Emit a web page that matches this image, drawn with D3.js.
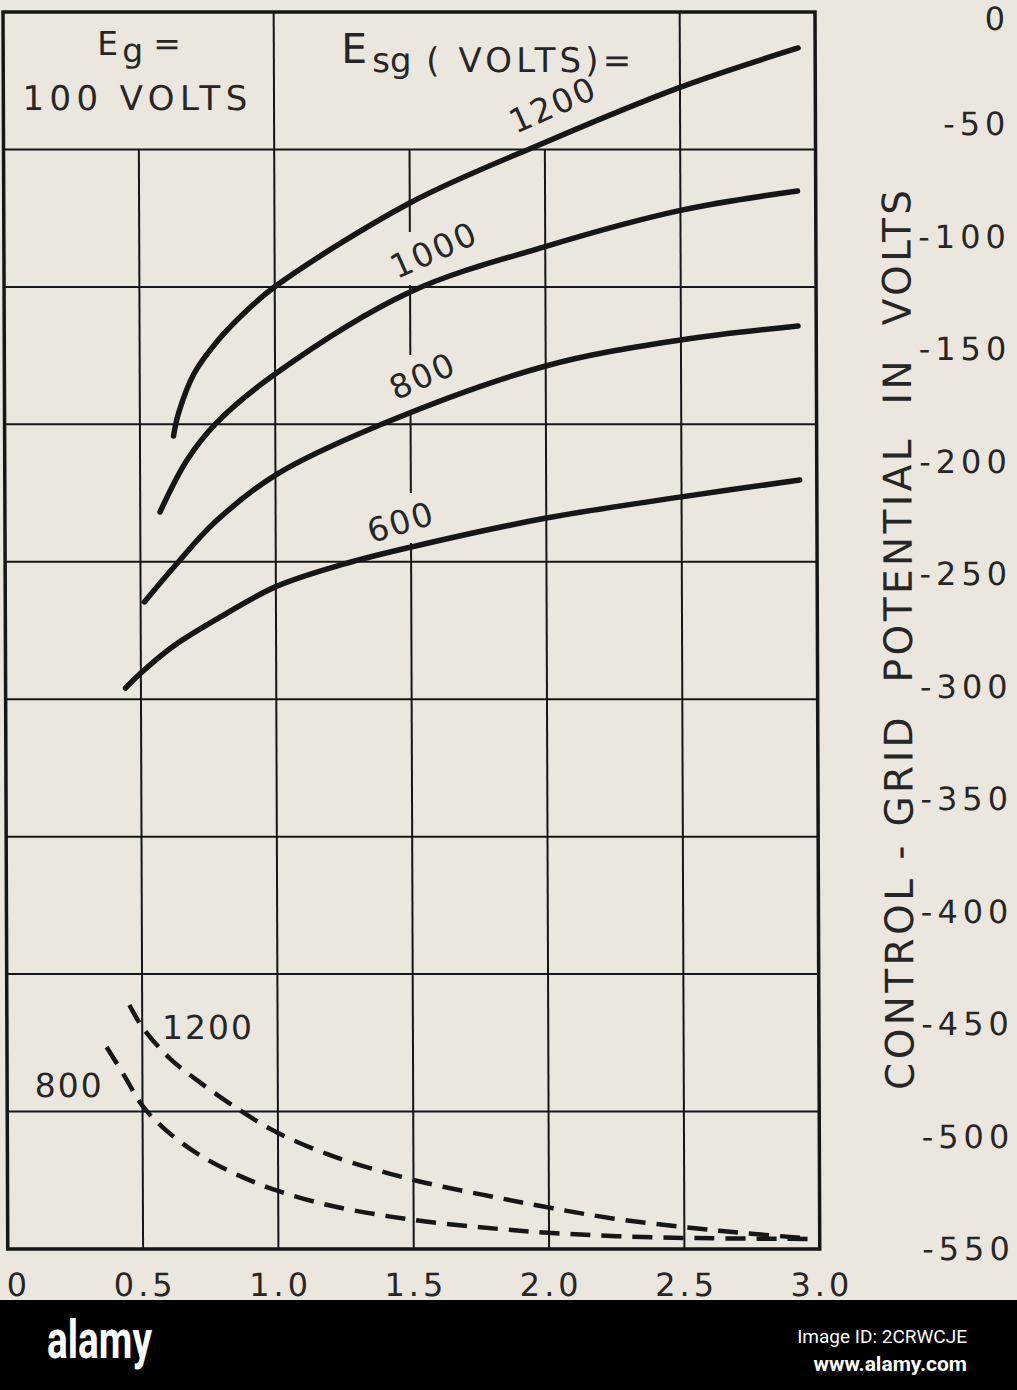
<!DOCTYPE html>
<html><head><meta charset="utf-8">
<script src="https://cdn.jsdelivr.net/npm/d3@7"></script>
<style>html,body{margin:0;padding:0;background:#ebe7df;}svg{display:block}</style>
</head><body><svg id="c" width="1017" height="1390"></svg>
<script>
// ---------- data ----------
const xTicks = [0, 0.5, 1, 1.5, 2, 2.5, 3];
const xTickLabels = ["0", "0.5", "1.0", "1.5", "2.0", "2.5", "3.0"];
const yTicks = [0, -50, -100, -150, -200, -250, -300, -350, -400, -450, -500, -550];
const yTickLabels = ["0", "-50", "-100", "-150", "-200", "-250", "-300", "-350", "-400", "-450", "-500", "-550"];

// solid curves: Eg = 100 V, Esg = 1200 / 1000 / 800 / 600 V  [plate current A, control-grid V]
const esg1200 = [[0.624,-188.5],[0.643,-178.3],[0.702,-160.5],[0.791,-145.8],[0.887,-133.8],[1.0,-122.2],[1.5,-84.9],[2.0,-58.0],[2.5,-33.5],[2.937,-16.0]];
const esg1000 = [[0.573,-222.3],[0.672,-199.5],[0.783,-182.7],[1.0,-161.0],[1.5,-124.5],[2.0,-104.3],[2.5,-88.2],[2.933,-79.6]];
const esg800 = [[0.514,-262.3],[0.643,-244.1],[0.776,-226.8],[1.0,-205.9],[1.393,-183.3],[2.0,-157.4],[2.5,-145.8],[2.933,-139.6]];
const esg600 = [[0.443,-300.6],[0.5,-293.9],[0.62,-282.0],[0.776,-270.3],[1.0,-255.5],[1.25,-245.5],[1.5,-237.9],[2.0,-225.0],[2.5,-215.6],[2.937,-208.1]];

// dashed curves: Esg = 1200 / 800 V
const dash1200 = [[0.453,-441.5],[0.5,-451.3],[0.600,-465.1],[0.710,-475.7],[0.858,-488.2],[1.0,-498.4],[1.2,-508.6],[1.5,-519.3],[1.815,-527.3],[2.01,-531.8],[2.23,-536.3],[2.503,-540.3],[2.724,-543.0],[2.955,-545.2]];
const dash800 = [[0.368,-460.2],[0.434,-473.1],[0.5,-486.4],[0.589,-497.5],[0.710,-508.2],[0.858,-517.5],[1.0,-524.2],[1.2,-530.9],[1.5,-537.1],[1.815,-541.1],[2.01,-542.9],[2.23,-544.2],[2.503,-545.1],[2.955,-545.5]];

const solidNames = ["1200", "1000", "800", "600"];
const dashedNames = ["1200", "800"];

// ---------- layout ----------
const svg = d3.select("#c");
const W = 1017, H = 1390;
const bg = "#ebe7df", ink = "#161616", txt = "#262626";
const FONT = "'DejaVu Sans', 'Noto Sans', sans-serif";
svg.append("rect").attr("width", W).attr("height", H).attr("fill", bg);

const x = d3.scaleLinear().domain([0, 3]).range([3, 815]);
const y = d3.scaleLinear().domain([-550, 0]).range([1249, 12]);

const g = svg.append("g").attr("transform", "translate(0,12) skewX(0.22) translate(0,-12)");

// grid: 9 equal rows, 6 columns
const rowVals = d3.range(1, 9).map(i => -550 * i / 9);
const headerBottom = rowVals[0];
const grid = g.append("g").attr("stroke", ink).attr("stroke-width", 2).attr("fill", "none");
grid.selectAll("line.h").data(rowVals).join("line")
  .attr("x1", x(0)).attr("x2", x(3)).attr("y1", d => y(d)).attr("y2", d => y(d));

const fullCols = [1, 2.5];
const colBreaks = { 1.5: [[-97.8, -121.4], [-152.5, -177.8], [-213.9, -236.1]] };
[0.5, 1, 1.5, 2, 2.5].forEach(v => {
  let top = fullCols.includes(v) ? 0 : headerBottom;
  const segs = [];
  (colBreaks[v] || []).forEach(([a, b]) => { segs.push([top, a]); top = b; });
  segs.push([top, -550]);
  segs.forEach(([a, b]) => grid.append("line")
    .attr("x1", x(v)).attr("x2", x(v)).attr("y1", y(a)).attr("y2", y(b)));
});
// frame
g.append("rect").attr("x", x(0)).attr("y", y(0))
  .attr("width", x(3) - x(0)).attr("height", y(-550) - y(0))
  .attr("fill", "none").attr("stroke", ink).attr("stroke-width", 3.5);

// curves
const line = d3.line().x(d => x(d[0])).y(d => y(d[1])).curve(d3.curveCatmullRom.alpha(0.5));
g.append("g").selectAll("path").data([esg1200, esg1000, esg800, esg600]).join("path")
  .attr("d", line).attr("fill", "none").attr("stroke", ink)
  .attr("stroke-width", 5.5).attr("stroke-linecap", "round");
g.append("g").selectAll("path").data([dash1200, dash800]).join("path")
  .attr("d", line).attr("fill", "none").attr("stroke", ink)
  .attr("stroke-width", 4.5).attr("stroke-dasharray", "20,11");

// curve labels (anchor in data units)
const solidLabelPos = [[2.031, -41.3, -24], [1.589, -105.8, -24], [1.546, -161.8, -24], [1.463, -226.8, -17]];
const dashedLabelPos = [[0.743, -451.3, 0], [0.229, -477.1, 0]];
function curveLabel(t, p) {
  g.append("text").attr("transform", `translate(${x(p[0])},${y(p[1])}) rotate(${p[2]})`)
    .attr("text-anchor", "middle").attr("dominant-baseline", "central")
    .attr("font-family", FONT).attr("font-size", 33).attr("letter-spacing", 2)
    .attr("fill", txt).text(t);
}
solidNames.forEach((n, i) => curveLabel(n, solidLabelPos[i]));
dashedNames.forEach((n, i) => curveLabel(n, dashedLabelPos[i]));

// header texts
function ht(t, px, py, fs, extra) {
  const e = g.append("text").attr("x", px).attr("y", py).attr("font-family", FONT)
    .attr("font-size", fs).attr("fill", txt).text(t);
  if (extra) extra(e);
  return e;
}
ht("E", 97, 55, 33);
ht("g", 122, 62, 33);
ht("=", 153, 55, 33);
ht("100 VOLTS", 22, 110, 34, e => e.attr("textLength", 225).attr("lengthAdjust", "spacing"));
ht("E", 341, 63, 41);
ht("sg", 372, 72, 34);
ht("( VOLTS)=", 426, 72, 34, e => e.attr("textLength", 205).attr("lengthAdjust", "spacing").style("white-space", "pre"));

// tick labels
g.append("g").selectAll("text").data(xTicks).join("text")
  .attr("x", d => Math.max(x(d) + 2, 14)).attr("y", 1296)
  .attr("text-anchor", "middle").attr("font-family", FONT).attr("font-size", 32)
  .attr("letter-spacing", 4).attr("fill", txt).text((d, i) => xTickLabels[i]);
g.append("g").selectAll("text").data(yTicks).join("text")
  .attr("x", 1010).attr("y", d => Math.max(y(d), 19)).attr("dominant-baseline", "central")
  .attr("text-anchor", "end").attr("font-family", FONT).attr("font-size", 32)
  .attr("letter-spacing", 5).attr("fill", txt).text((d, i) => yTickLabels[i]);

// axis title
g.append("text").attr("transform", `translate(896,640) rotate(-90)`)
  .attr("text-anchor", "middle").attr("dominant-baseline", "central")
  .attr("font-family", FONT).attr("font-size", 39).attr("fill", txt)
  .attr("textLength", 900).attr("lengthAdjust", "spacing")
  .style("white-space", "pre").text("CONTROL - GRID  POTENTIAL  IN  VOLTS");

// bottom banner
svg.append("rect").attr("x", 0).attr("y", 1300).attr("width", W).attr("height", 90).attr("fill", "#000");
svg.append("text").attr("x", 47).attr("y", 1358).attr("fill", "#fff")
  .attr("font-family", "'Liberation Sans Narrow','Roboto',sans-serif").attr("font-weight", "bold")
  .attr("font-size", 54).attr("textLength", 105).attr("lengthAdjust", "spacingAndGlyphs").text("alamy");
svg.append("text").attr("x", 967).attr("y", 1343).attr("fill", "#fff").attr("text-anchor", "end")
  .attr("font-family", "'Liberation Sans Narrow','Roboto',sans-serif")
  .attr("font-size", 19).text("Image ID: 2CRWCJE");
svg.append("text").attr("x", 967).attr("y", 1371).attr("fill", "#fff").attr("text-anchor", "end")
  .attr("font-family", "'Liberation Sans Narrow','Roboto',sans-serif").attr("font-weight", "bold")
  .attr("font-size", 21).text("www.alamy.com");
</script></body></html>
